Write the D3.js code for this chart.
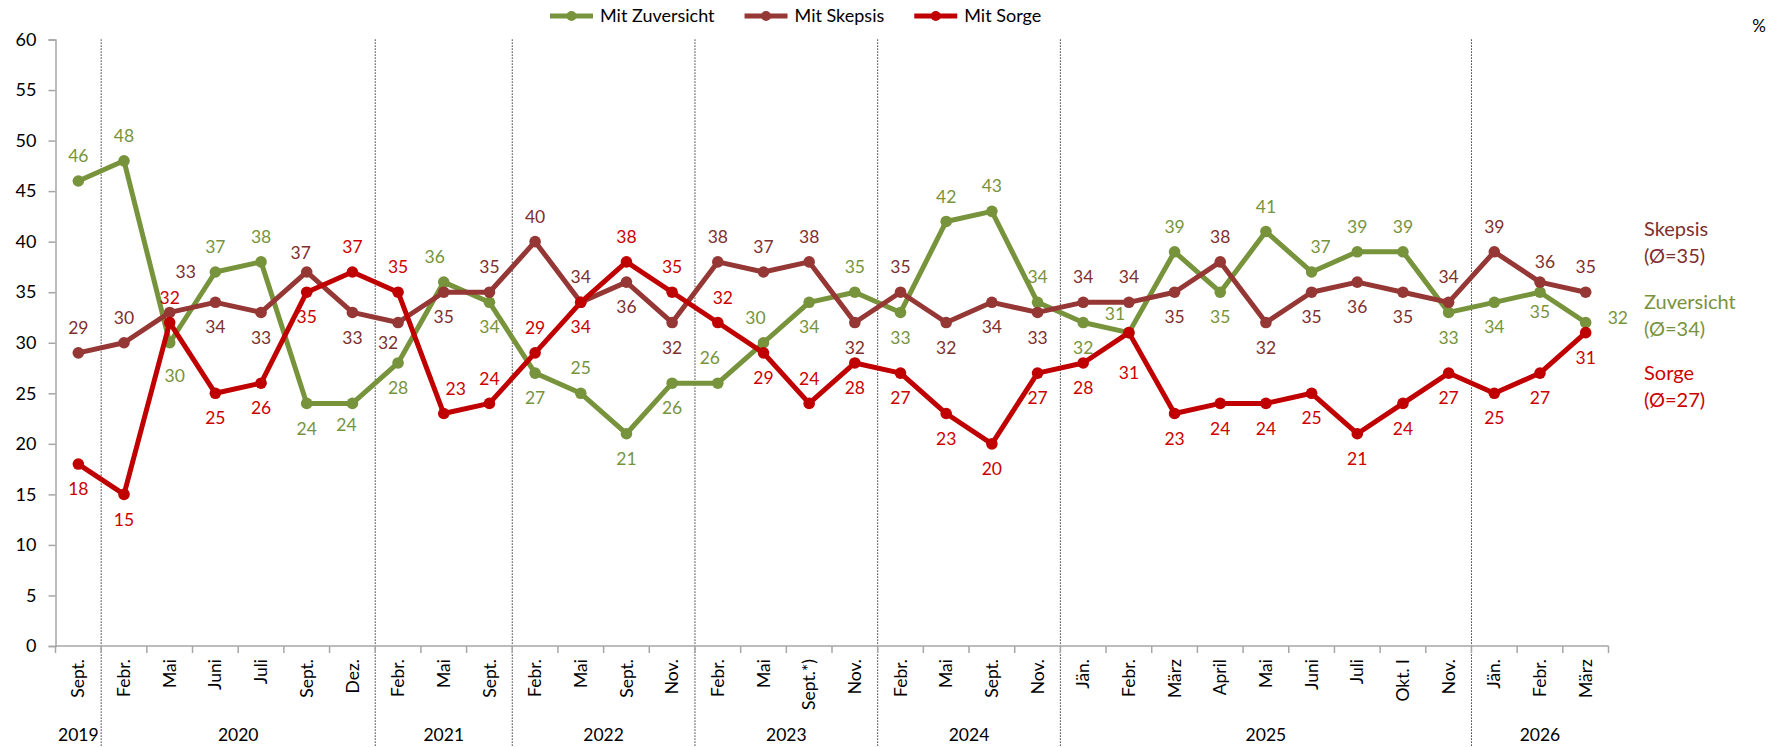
<!DOCTYPE html>
<html><head><meta charset="utf-8">
<script src="https://cdn.jsdelivr.net/npm/d3@7"></script>
<style>
body{margin:0;background:#fff;}
text{font-family:Lato,"Open Sans",sans-serif;}
</style>
</head><body>
<svg id="c" width="1782" height="747"></svg>
<script>
// ---------------- data ----------------
const months = ["Sept.","Febr.","Mai","Juni","Juli","Sept.","Dez.","Febr.","Mai","Sept.","Febr.","Mai","Sept.","Nov.","Febr.","Mai","Sept.*)","Nov.","Febr.","Mai","Sept.","Nov.","Jän.","Febr.","März","April","Mai","Juni","Juli","Okt. I","Nov.","Jän.","Febr.","März"];
const monthYears = ["2019","2020","2020","2020","2020","2020","2020","2021","2021","2021","2022","2022","2022","2022","2023","2023","2023","2023","2024","2024","2024","2024","2025","2025","2025","2025","2025","2025","2025","2025","2025","2026","2026","2026"];
const zuversicht = [46,48,30,37,38,24,24,28,36,34,27,25,21,26,26,30,34,35,33,42,43,34,32,31,39,35,41,37,39,39,33,34,35,32];
const skepsis    = [29,30,33,34,33,37,33,32,35,35,40,34,36,32,38,37,38,32,35,32,34,33,34,34,35,38,32,35,36,35,34,39,36,35];
const sorge      = [18,15,32,25,26,35,37,35,23,24,29,34,38,35,32,29,24,28,27,23,20,27,28,31,23,24,24,25,21,24,27,25,27,31];
const yTicks = [0,5,10,15,20,25,30,35,40,45,50,55,60];
const seriesNames = ["Mit Zuversicht","Mit Skepsis","Mit Sorge"];
const avgNames = ["Zuversicht","Skepsis","Sorge"];
const avgValues = [34,35,27];

// ---------------- styles / label placement ----------------
const lineColors  = ["#77933C","#953735","#C00000"];
const labelColors = ["#77933C","#7E2F2E","#CC0000"];
// a = above, b = below, r = right
const placements = [
  "aabaabbbab"+"babbaababa"+"aabaabaaaa"+"bbbr",
  "aaabbabbba"+"aabbaaabab"+"bbaababbbb"+"aaaa",
  "bbabbbaaaa"+"abaaababbb"+"bbbbbbbbbb"+"bbbb"
];
const nudges = {"0-2":[5,8],"1-2":[16,-16],"0-23":[-14,6],"2-23":[0,15],"0-8":[-9,0],"2-8":[12,0],
  "1-7":[-10,-5],"0-14":[-8,0],"0-15":[-8,0],"2-14":[5,0],"1-5":[-6,6],"0-6":[-6,-4],"0-27":[9,0],"1-32":[5,5],"0-32":[0,-5]};
const avgNudge = [0,-63,0];

// ---------------- chart ----------------
const svg = d3.select("#c");
const pL = 55.5, pR = 1608.5, pT = 39.5, pB = 646;
const x = d3.scaleBand().domain(d3.range(months.length)).range([pL,pR]).paddingInner(0).paddingOuter(0);
const y = d3.scaleLinear().domain([0,60]).range([pB,pT]);
const step = x.step();
const cx = i => x(i) + step/2;

// year separators (dotted)
const bounds = d3.range(months.length+1).map(i => pL + i*step);
const sepIdx = d3.range(1, months.length).filter(i => monthYears[i] !== monthYears[i-1]);
svg.append("g").selectAll("line").data(sepIdx).join("line")
  .attr("x1", i => bounds[i]).attr("x2", i => bounds[i])
  .attr("y1", pT).attr("y2", 747)
  .attr("stroke","#000").attr("stroke-width",1).attr("stroke-dasharray","1.2,1.8");

// y axis
const yAxis = svg.append("g").attr("transform",`translate(${pL},0)`)
  .call(d3.axisLeft(y).tickValues(yTicks).tickSize(7).tickPadding(12));
yAxis.select(".domain").attr("stroke","#A6A6A6").attr("stroke-width",1.5);
yAxis.selectAll(".tick line").attr("stroke","#A6A6A6").attr("stroke-width",1.5);
yAxis.selectAll(".tick text").attr("font-size",18).attr("fill","#000").attr("font-family","Lato");

// x axis
svg.append("line").attr("x1",pL).attr("x2",pR).attr("y1",pB).attr("y2",pB)
  .attr("stroke","#A6A6A6").attr("stroke-width",1.5);
svg.append("g").selectAll("line").data(bounds).join("line")
  .attr("x1",d=>d).attr("x2",d=>d).attr("y1",pB).attr("y2",pB+7)
  .attr("stroke","#A6A6A6").attr("stroke-width",1.5);
svg.append("g").selectAll("text").data(months).join("text")
  .attr("transform",(d,i)=>`translate(${cx(i)},${pB+13}) rotate(-90)`)
  .attr("text-anchor","end").attr("dy","0.35em")
  .attr("font-size",17.5).attr("fill","#000").text(d=>d);

// year labels
const yearGroups = d3.groups(d3.range(months.length), i => monthYears[i]);
svg.append("g").selectAll("text").data(yearGroups).join("text")
  .attr("x", d => (bounds[d[1][0]] + bounds[d[1][d[1].length-1]+1])/2)
  .attr("y", 735).attr("dy","0.35em").attr("text-anchor","middle")
  .attr("font-size",17.5).attr("fill","#000").text(d=>d[0]);

// series
const series = [zuversicht, skepsis, sorge];
const line = d3.line().x((d,i)=>cx(i)).y(d=>y(d));
series.forEach((s,k)=>{
  const g = svg.append("g");
  g.append("path").datum(s).attr("d",line).attr("fill","none")
    .attr("stroke",lineColors[k]).attr("stroke-width",5).attr("stroke-linejoin","round");
  g.selectAll("circle").data(s).join("circle")
    .attr("cx",(d,i)=>cx(i)).attr("cy",d=>y(d)).attr("r",5.8).attr("fill",lineColors[k]);
});

// data labels
series.forEach((s,k)=>{
  svg.append("g").selectAll("text").data(s).join("text")
    .attr("x",(d,i)=>{
      const p = placements[k][i]; const n = nudges[k+"-"+i] || [0,0];
      return cx(i) + (p==="r"?22:0) + n[0];
    })
    .attr("y",(d,i)=>{
      const p = placements[k][i]; const n = nudges[k+"-"+i] || [0,0];
      const off = p==="a" ? -25 : (p==="b" ? 25 : -5);
      return y(d) + off + n[1];
    })
    .attr("dy","0.35em")
    .attr("text-anchor",(d,i)=>placements[k][i]==="r"?"start":"middle")
    .attr("font-size",17.5).attr("fill",labelColors[k]).text(d=>d);
});

// legend
const lg = svg.append("g");
let lx = 550;
seriesNames.forEach((n,k)=>{
  lg.append("line").attr("x1",lx).attr("x2",lx+43).attr("y1",16).attr("y2",16)
    .attr("stroke",lineColors[k]).attr("stroke-width",5);
  lg.append("circle").attr("cx",lx+21.5).attr("cy",16).attr("r",5).attr("fill",lineColors[k]);
  const t = lg.append("text").attr("x",lx+50).attr("y",16).attr("dy","0.35em")
    .attr("font-size",18).attr("fill","#000").text(n);
  lx += 50 + t.node().getComputedTextLength() + 30;
});

// percent sign
svg.append("text").attr("x",1766).attr("y",26).attr("dy","0.35em").attr("text-anchor","end")
  .attr("font-size",17).attr("fill","#000").text("%");

// averages on the right
avgNames.forEach((n,k)=>{
  const yy = y(avgValues[k]) + avgNudge[k];
  svg.append("text").attr("x",1644).attr("y",yy).attr("dy","0.35em")
    .attr("font-size",20).attr("fill",labelColors[k]).text(n);
  svg.append("text").attr("x",1644).attr("y",yy+27).attr("dy","0.35em")
    .attr("font-size",20).attr("fill",labelColors[k]).text("(Ø="+avgValues[k]+")");
});
</script>
</body></html>
